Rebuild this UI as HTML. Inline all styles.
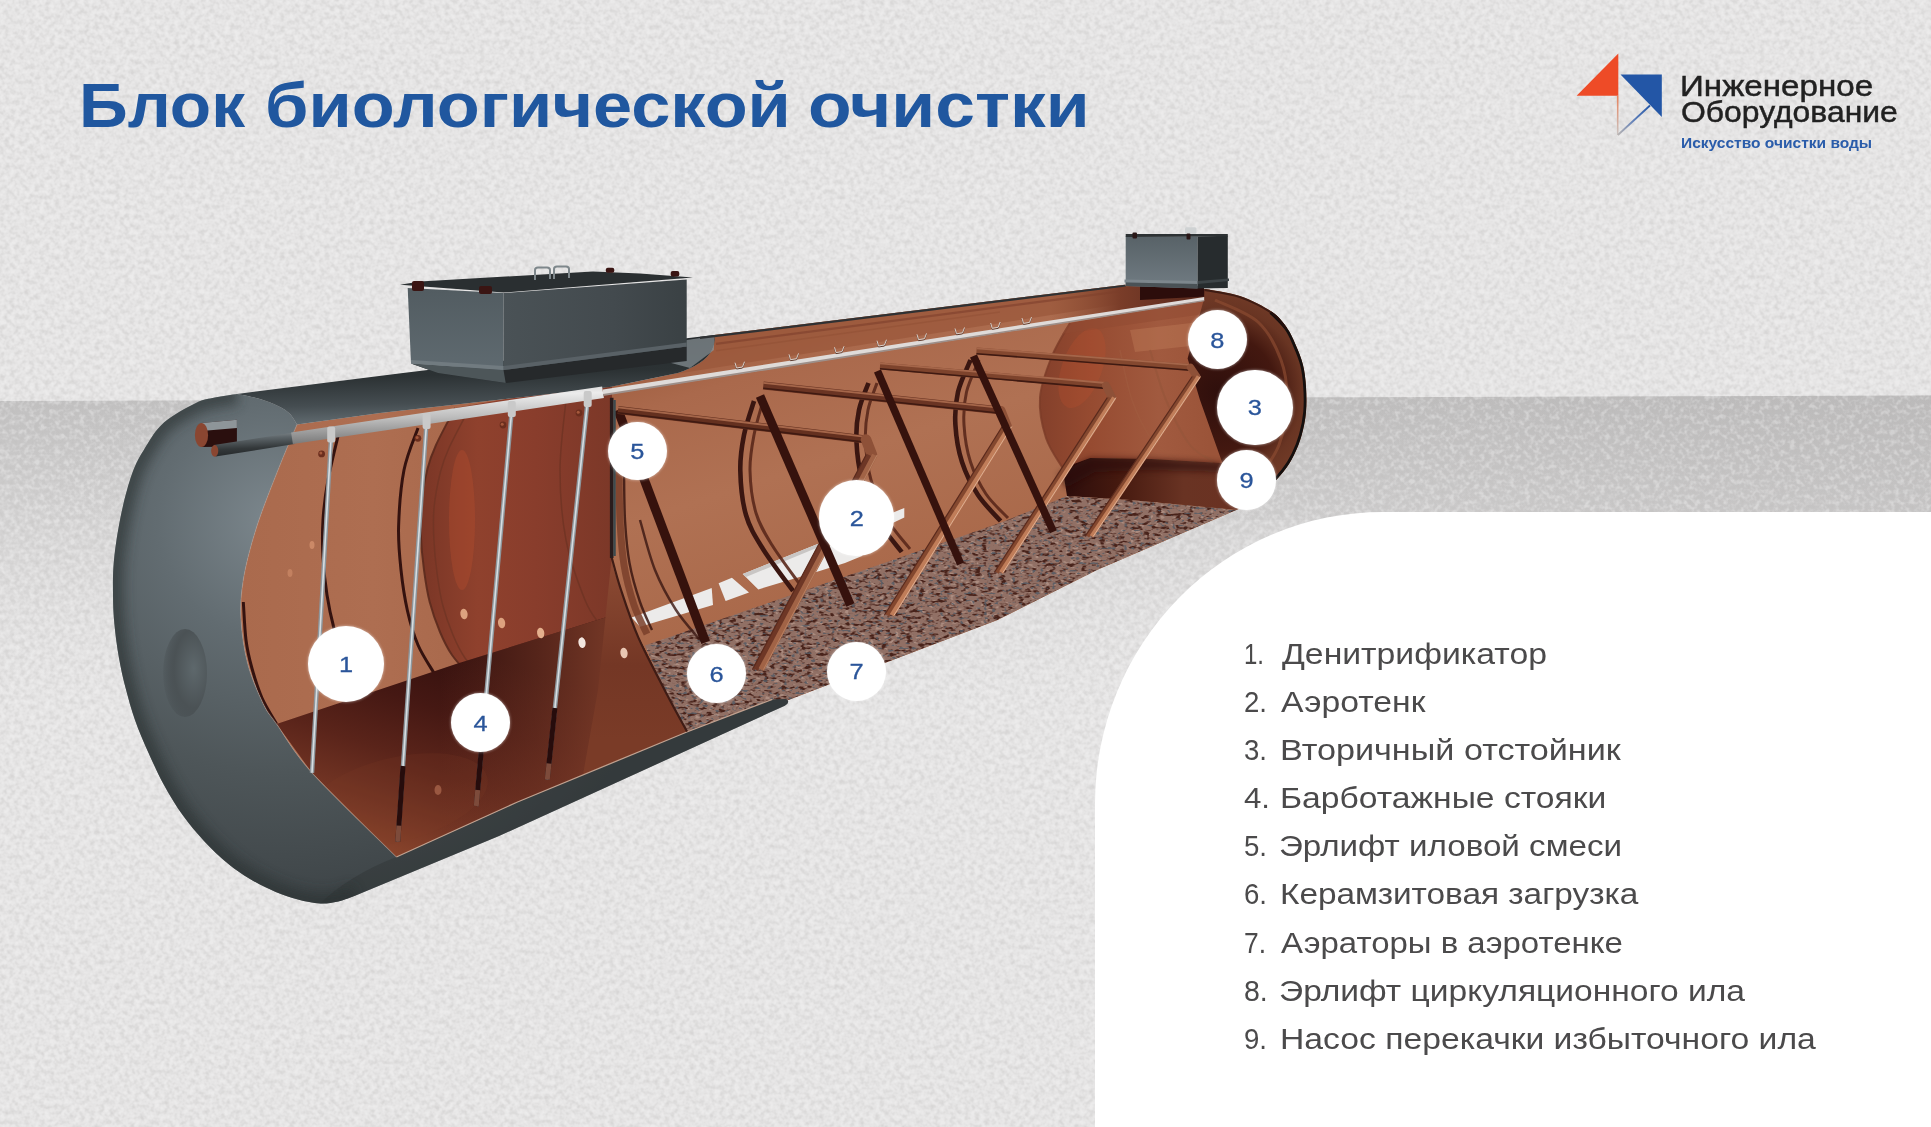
<!DOCTYPE html>
<html lang="ru">
<head>
<meta charset="utf-8">
<title>Блок биологической очистки</title>
<style>
  html,body{margin:0;padding:0;}
  body{width:1931px;height:1127px;background:#e4e3e3;font-family:"Liberation Sans",sans-serif;}
  #page{position:relative;width:1931px;height:1127px;overflow:hidden;background:#e4e3e3;}
  .abs{position:absolute;}
  #bgsvg{position:absolute;left:0;top:0;width:1931px;height:1127px;}
  #panel{position:absolute;left:1095px;top:512px;width:836px;height:615px;background:#ffffff;border-top-left-radius:288px 292px;}
  #title{position:absolute;left:0;top:65px;margin:0;font-weight:bold;font-size:63px;line-height:80px;color:#20579f;white-space:nowrap;}
  #title span{position:absolute;top:0;display:block;transform-origin:0 0;}
  .leg{position:absolute;left:1244px;height:40px;line-height:40px;font-size:30px;color:#4b4a4b;white-space:nowrap;}
  .leg .n{position:absolute;left:0;top:0;display:block;transform-origin:0 0;}
  .leg .t{position:absolute;left:36px;top:0;display:block;transform-origin:0 0;}
  .dot{position:absolute;border-radius:50%;background:#ffffff;color:#2a559a;text-align:center;font-size:21.5px;box-shadow:0 0 3px rgba(255,255,255,0.6);}
  .dot span{position:absolute;left:0;right:0;top:50%;height:30px;line-height:30px;margin-top:-14px;transform:scaleX(1.18);-webkit-text-stroke:0.3px #2a559a;}
</style>
</head>
<body>
<div id="page">

<!-- ===== background texture + ground band ===== -->
<svg id="bgsvg" viewBox="0 0 1931 1127" width="1931" height="1127">
  <defs>
    <filter id="paperL" color-interpolation-filters="sRGB" x="0" y="0" width="100%" height="100%">
      <feTurbulence type="fractalNoise" baseFrequency="0.2" numOctaves="2" seed="7" result="n"/>
      <feColorMatrix in="n" type="matrix" values="0 0 0 0 1  0 0 0 0 1  0 0 0 0 1  3.2 0 0 0 -1.45"/>
    </filter>
    <filter id="paperD" color-interpolation-filters="sRGB" x="0" y="0" width="100%" height="100%">
      <feTurbulence type="fractalNoise" baseFrequency="0.2" numOctaves="2" seed="7" result="n"/>
      <feColorMatrix in="n" type="matrix" values="0 0 0 0 0.74  0 0 0 0 0.735  0 0 0 0 0.73  -3.2 0 0 0 1.55"/>
    </filter>
    <linearGradient id="bandg" x1="0" y1="398" x2="0" y2="700" gradientUnits="userSpaceOnUse">
      <stop offset="0" stop-color="#c1c0c0"/>
      <stop offset="0.15" stop-color="#c8c7c7"/>
      <stop offset="0.45" stop-color="#d6d5d5"/>
      <stop offset="0.75" stop-color="#e0dfdf"/>
      <stop offset="1" stop-color="#e4e3e3"/>
    </linearGradient>
    <linearGradient id="bandh" x1="0" y1="0" x2="1931" y2="0" gradientUnits="userSpaceOnUse">
      <stop offset="0" stop-color="#b0aeae" stop-opacity="0"/>
      <stop offset="0.6" stop-color="#b0aeae" stop-opacity="0.1"/>
      <stop offset="1" stop-color="#b0aeae" stop-opacity="0.35"/>
    </linearGradient>
  </defs>
  <rect x="0" y="0" width="1931" height="1127" fill="#e4e3e3"/>
  <polygon points="0,401 1931,395.5 1931,700 0,700" fill="url(#bandg)"/>
  <polygon points="0,401 1931,395.5 1931,520 0,520" fill="url(#bandh)"/>
  <rect x="0" y="0" width="1931" height="1127" filter="url(#paperL)" opacity="0.3"/>
  <rect x="0" y="0" width="1931" height="1127" filter="url(#paperD)" opacity="0.3"/>
</svg>

<!-- ===== white legend panel ===== -->
<div id="panel"></div>

<!-- ===== title ===== -->
<h1 id="title"><span style="left:78.7px;transform:scaleX(1.075)">Блок</span><span style="left:265.2px;transform:scaleX(1.1166)">биологической</span><span style="left:807.7px;transform:scaleX(1.134)">очистки</span></h1>

<svg id="tank" style="position:absolute;left:0;top:0" width="1931" height="1127" viewBox="0 0 1931 1127">
<defs>
<clipPath id="cInt"><path d="M297,424.4 L380,413 L571.7,391.5 L610,387 L678,373 Q705,364 712,350 Q716,342 714,335 L1000,300 L1125,284.8 L1205,289 C1210.8,290.2 1228.9,292.2 1240,296 C1251.1,299.8 1263.7,306.3 1271.5,311.6 C1279.3,316.9 1283,322.5 1287,328 C1291,333.5 1292.9,338.6 1295.6,344.8 C1298.3,351 1301.3,358 1303,365 C1304.7,372 1305.5,379.2 1306,387 C1306.5,394.8 1306.7,404 1306,412 C1305.3,420 1303.7,427.8 1301.7,435 C1299.7,442.2 1297,448.9 1294,455 C1291,461.1 1288.4,465.5 1283.6,471.5 C1278.8,477.5 1272.1,484.9 1265,491 C1257.9,497.1 1245,505.2 1241,508 L1097,570 L997.6,620 L883.6,663.6 L786,701 L772.3,699.4 L686.9,732 L517.5,802 L396.4,857 C382.3,843 332,795 312,772.8 C292,750.6 284.7,735.5 276.6,724 C268.5,712.5 268.1,714 263.3,704 C258.5,694 251.5,678 247.8,664 C244.1,650 241.8,633.8 241,619.7 C240.2,605.7 240.7,595.2 243.3,579.7 C245.9,564.2 250.9,545 256.8,526.5 C262.7,508 271.8,485.8 278.5,468.8 C285.2,451.8 293.9,431.8 297,424.4 Z"/></clipPath>

<linearGradient id="gWallA" x1="240" y1="0" x2="620" y2="0" gradientUnits="userSpaceOnUse">
  <stop offset="0" stop-color="#aa6a4d"/><stop offset="0.35" stop-color="#ae6e51"/><stop offset="1" stop-color="#a06043"/>
</linearGradient>
<linearGradient id="gWallB" x1="700" y1="330" x2="800" y2="640" gradientUnits="userSpaceOnUse">
  <stop offset="0" stop-color="#9e5c3e"/><stop offset="0.18" stop-color="#aa694c"/><stop offset="0.5" stop-color="#b07153"/><stop offset="1" stop-color="#a86748"/>
</linearGradient>
<linearGradient id="gWater" x1="470" y1="650" x2="400" y2="860" gradientUnits="userSpaceOnUse">
  <stop offset="0" stop-color="#33100e"/><stop offset="0.3" stop-color="#451813"/><stop offset="0.55" stop-color="#5a241a"/><stop offset="0.8" stop-color="#733524"/><stop offset="1" stop-color="#8a452c"/>
</linearGradient>
<linearGradient id="gDiscA" x1="420" y1="0" x2="612" y2="0" gradientUnits="userSpaceOnUse">
  <stop offset="0" stop-color="#7a3626"/><stop offset="0.3" stop-color="#8f412d"/><stop offset="0.6" stop-color="#893d2c"/><stop offset="1" stop-color="#7c3828"/>
</linearGradient>
<linearGradient id="gPartF" x1="0" y1="400" x2="0" y2="740" gradientUnits="userSpaceOnUse">
  <stop offset="0" stop-color="#94513a"/><stop offset="0.5" stop-color="#8a4932"/><stop offset="0.78" stop-color="#743725"/><stop offset="1" stop-color="#7a3b27"/>
</linearGradient>
<radialGradient id="gCap" cx="275" cy="520" r="420" gradientUnits="userSpaceOnUse">
  <stop offset="0" stop-color="#7c878d"/><stop offset="0.28" stop-color="#626c71"/><stop offset="0.6" stop-color="#4e5659"/><stop offset="1" stop-color="#3a4043"/>
</radialGradient>
<linearGradient id="gTop" x1="0" y1="0" x2="0.14" y2="1">
  <stop offset="0" stop-color="#22272a"/><stop offset="0.5" stop-color="#2c3234"/><stop offset="0.8" stop-color="#454d51"/><stop offset="1" stop-color="#616b70"/>
</linearGradient>
<linearGradient id="gPipe" x1="0" y1="0" x2="0.15" y2="1">
  <stop offset="0" stop-color="#c9c9c9"/><stop offset="0.25" stop-color="#ececec"/><stop offset="0.6" stop-color="#bcbcbc"/><stop offset="1" stop-color="#777777"/>
</linearGradient>
<linearGradient id="gBoxL" x1="0" y1="0" x2="0" y2="1">
  <stop offset="0" stop-color="#525c61"/><stop offset="1" stop-color="#5f6a70"/>
</linearGradient>
<linearGradient id="gBoxR" x1="0" y1="0" x2="1" y2="0">
  <stop offset="0" stop-color="#4a5256"/><stop offset="0.6" stop-color="#434a4e"/><stop offset="1" stop-color="#3a4144"/>
</linearGradient>
<linearGradient id="gSettler" x1="1040" y1="0" x2="1210" y2="0" gradientUnits="userSpaceOnUse">
  <stop offset="0" stop-color="#84402b"/><stop offset="0.3" stop-color="#964b31"/><stop offset="0.7" stop-color="#a15a3f"/><stop offset="1" stop-color="#9b5439"/>
</linearGradient>
<radialGradient id="gEnd" cx="1218" cy="392" r="118" gradientUnits="userSpaceOnUse">
  <stop offset="0" stop-color="#2f0f0c"/><stop offset="0.5" stop-color="#431810"/><stop offset="0.72" stop-color="#693523"/><stop offset="0.9" stop-color="#743c28"/><stop offset="1" stop-color="#55281b"/>
</radialGradient>
<filter id="fGravel" color-interpolation-filters="sRGB" x="0" y="0" width="100%" height="100%">
  <feTurbulence type="fractalNoise" baseFrequency="0.16 0.30" numOctaves="2" seed="11" result="n"/>
  <feColorMatrix in="n" type="matrix" values="0 0 0 0 0.27  0 0 0 0 0.12  0 0 0 0 0.09  5 0 0 0 -2.55"/>
</filter>
<filter id="fGravel2" color-interpolation-filters="sRGB" x="0" y="0" width="100%" height="100%">
  <feTurbulence type="fractalNoise" baseFrequency="0.25 0.40" numOctaves="1" seed="3" result="n"/>
  <feColorMatrix in="n" type="matrix" values="0 0 0 0 0.33  0 0 0 0 0.36  0 0 0 0 0.40  0 9 0 0 -5.3"/>
</filter>
<filter id="fGravel3" color-interpolation-filters="sRGB" x="0" y="0" width="100%" height="100%">
  <feTurbulence type="fractalNoise" baseFrequency="0.20 0.36" numOctaves="1" seed="23" result="n"/>
  <feColorMatrix in="n" type="matrix" values="0 0 0 0 0.70  0 0 0 0 0.58  0 0 0 0 0.53  0 0 8 0 -4.7"/>
</filter>

</defs>
<g clip-path="url(#cInt)">
<rect x="230" y="330" width="390" height="540" fill="url(#gWallA)"/>
<rect x="605" y="270" width="720" height="480" fill="url(#gWallB)"/>
<path d="M612,384 L1210,290 L1210,270 L612,330 Z" fill="#9a573a" opacity="0.7"/>
<path d="M716,343.8 L1130,290.2" fill="none" stroke="#7a3d29" stroke-width="2.2" opacity="0.55"/>
<path d="M716,350.8 L1000,312" fill="none" stroke="#8f4d33" stroke-width="1.6" opacity="0.45"/>
<path d="M455,408 C451.8,414.2 440.6,434.9 436,445 C431.4,455.1 430,458.8 427.5,468.8 C425,478.8 422.1,493.9 421,505 C419.9,516.1 420.3,524.5 420.8,535.3 C421.3,546.1 422.5,558.9 424,570 C425.5,581.1 427,591.7 429.7,602 C432.4,612.3 436.3,623.2 440,632 C443.7,640.8 447,647.7 452,655 C457,662.3 467,672.5 470,676 L612,700 L612,380 Z" fill="url(#gDiscA)"/>
<path d="M468,411 C464.8,417.2 453.6,437.9 449,448 C444.4,458.1 443,461.8 440.5,471.8 C438,481.8 435.1,496.9 434,508 C432.9,519.1 433.3,527.5 433.8,538.3 C434.3,549.1 435.5,561.9 437,573 C438.5,584.1 440,594.7 442.7,605 C445.4,615.3 449.3,626.2 453,635 C456.7,643.8 460,650.7 465,658 C470,665.3 480,675.5 483,679" fill="none" stroke="#6f3524" stroke-width="1.5" opacity="0.8"/>
<path d="M455,408 C451.8,414.2 440.6,434.9 436,445 C431.4,455.1 430,458.8 427.5,468.8 C425,478.8 422.1,493.9 421,505 C419.9,516.1 420.3,524.5 420.8,535.3 C421.3,546.1 422.5,558.9 424,570 C425.5,581.1 427,591.7 429.7,602 C432.4,612.3 436.3,623.2 440,632 C443.7,640.8 447,647.7 452,655 C457,662.3 467,672.5 470,676" fill="none" stroke="#5b2a1d" stroke-width="2" opacity="0.9"/>
<ellipse cx="462" cy="520" rx="13" ry="70" fill="#c6522f" opacity="0.28"/>
<path d="M566,400 C565,411.7 560,446.7 560,470 C560,493.3 561.8,518.3 566,540 C570.2,561.7 579.3,585.8 585,600 C590.7,614.2 597.5,620.8 600,625" fill="none" stroke="#6b3222" stroke-width="1.5" opacity="0.7"/>
<path d="M243.3,602 C243.8,608.3 244.6,628.9 246,640 C247.4,651.1 249.3,658.8 252,668.5 C254.7,678.2 257.9,688.8 262,698 C266.1,707.2 274.2,719.7 276.6,724" fill="none" stroke="#34120f" stroke-width="3"/>
<path d="M340,428 C338,436.7 330.8,464.7 328,480 C325.2,495.3 323.8,507.1 323,520 C322.2,532.9 322.3,545 323,557.5 C323.7,570 325.2,583.2 327,595 C328.8,606.8 331.2,617.7 334,628.5 C336.8,639.3 340.3,649.8 344,660 C347.7,670.2 354,685 356,690" fill="none" stroke="#34120f" stroke-width="3"/>
<path d="M418,428 C415.7,435 407.2,453.6 404,470 C400.8,486.4 399.1,509.8 398.6,526.5 C398.1,543.2 399.5,555.9 401,570 C402.5,584.1 404.7,598.5 407.5,611 C410.3,623.5 413.6,634.7 418,645 C422.4,655.3 431.3,668.3 434,673" fill="none" stroke="#34120f" stroke-width="3"/>
<path d="M276.6,724 L456,664 L611.7,615.5 L640,640 L687,731.5 L517.5,802 L396.4,857 L312,772.8 Z" fill="url(#gWater)"/>
<linearGradient id="gWaterH" x1="440" y1="0" x2="600" y2="0" gradientUnits="userSpaceOnUse"><stop offset="0" stop-color="#7e3d29" stop-opacity="0"/><stop offset="0.6" stop-color="#7e3d29" stop-opacity="0.45"/><stop offset="1" stop-color="#84412c" stop-opacity="0.75"/></linearGradient>
<path d="M276.6,724 L456,664 L611.7,615.5 L640,640 L687,731.5 L517.5,802 L396.4,857 L312,772.8 Z" fill="url(#gWaterH)"/>
<path d="M611.7,397.8  C611.7,414.8 611.7,473.4 611.7,500 C611.7,526.6 610.2,542.7 611.7,557.5 C613.2,572.3 616.2,575.3 620.6,588.6 C625,601.9 630.9,620.4 638.3,637.4 C645.7,654.4 656.9,675 665,690.7 C673.1,706.4 683.3,724.7 687,731.5 L583,775 L598,690 L611.7,557 Z" fill="url(#gPartF)"/>
<ellipse cx="395" cy="800" rx="95" ry="42" transform="rotate(-14 395 800)" fill="#7d3b27" opacity="0.18"/>
<ellipse cx="464" cy="614" rx="3.6" ry="5.4" fill="#dda27f" transform="rotate(-10 464 614)"/>
<ellipse cx="501.6" cy="623" rx="3.6" ry="5.4" fill="#dda27f" transform="rotate(-10 501.6 623)"/>
<ellipse cx="540.7" cy="633" rx="3.6" ry="5.4" fill="#e4b08d" transform="rotate(-10 540.7 633)"/>
<ellipse cx="582" cy="642.7" rx="3.6" ry="5.4" fill="#f3e6df" transform="rotate(-10 582 642.7)"/>
<ellipse cx="624" cy="653" rx="3.6" ry="5.4" fill="#e9c7b3" transform="rotate(-10 624 653)"/>
<ellipse cx="312" cy="545" rx="2.5" ry="4" fill="#d99572" opacity="0.7"/>
<ellipse cx="290" cy="573" rx="2.5" ry="4" fill="#d99572" opacity="0.5"/>
<ellipse cx="438" cy="790" rx="3.5" ry="5" fill="#a6634a" opacity="0.8"/>
<path d="M1070,323 C1067,328.5 1057,343.6 1052,356 C1047,368.4 1041,383.8 1040,397.5 C1039,411.2 1042.2,426.2 1046,438 C1049.8,449.8 1059.8,463 1062.6,468 L1090,458 L1151,459 L1222,463 L1204,299 Z" fill="url(#gSettler)"/>
<ellipse cx="1082" cy="368" rx="20" ry="42" fill="#c8532f" opacity="0.22" transform="rotate(20 1082 368)"/>
<path d="M1070,323 C1067,328.5 1057,343.6 1052,356 C1047,368.4 1041,383.8 1040,397.5 C1039,411.2 1042.2,426.2 1046,438 C1049.8,449.8 1059.8,463 1062.6,468" fill="none" stroke="#7c3c28" stroke-width="2" opacity="0.8"/>
<path d="M1062,334 L1204,314 L1204,300 L1070,323 Z" fill="#8f4a31" opacity="0.5"/>
<path d="M1130,330 L1200,322 L1200,345 L1135,352 Z" fill="#c6835f" opacity="0.35"/>
<path d="M1150,350 C1152.7,358.3 1159.3,384.2 1166,400 C1172.7,415.8 1181.8,434.7 1190,445 C1198.2,455.3 1210.8,459.2 1215,462" fill="none" stroke="#96553a" stroke-width="2" opacity="0.7"/>
<path d="M1120,350 C1122,358.3 1126.7,385 1132,400 C1137.3,415 1144.8,430 1152,440 C1159.2,450 1171.2,456.7 1175,460" fill="none" stroke="#a05c40" stroke-width="1.5" opacity="0.6"/>
<linearGradient id="gNeck" x1="1050" y1="0" x2="1205" y2="0" gradientUnits="userSpaceOnUse"><stop offset="0" stop-color="#8a4a31" stop-opacity="0"/><stop offset="0.45" stop-color="#7a3d29"/><stop offset="1" stop-color="#55261a"/></linearGradient>
<path d="M1050,292 L1210,280 L1210,297.5 L1050,322 Z" fill="url(#gNeck)"/>
<linearGradient id="gShade" x1="1060" y1="0" x2="1225" y2="0" gradientUnits="userSpaceOnUse"><stop offset="0" stop-color="#2a0c0b"/><stop offset="0.35" stop-color="#45190f"/><stop offset="0.75" stop-color="#693323"/><stop offset="1" stop-color="#6a3222"/></linearGradient>
<path d="M1062.6,468 L1090,458 L1151,459 L1222,463 L1238,510 L1130,500 L1067,496 Z" fill="url(#gShade)"/>
<filter id="fBlur3" x="-10%" y="-30%" width="120%" height="160%"><feGaussianBlur stdDeviation="3"/></filter>
<path d="M1058,474 L1090,458 L1151,459 L1222,463 L1224,472 L1150,470 L1095,472 L1066,488 Z" fill="#2c0e0c" opacity="0.6" filter="url(#fBlur3)"/>
<path d="M1204,299 L1205,289 C1210.8,290.2 1228.9,292.2 1240,296 C1251.1,299.8 1263.7,306.3 1271.5,311.6 C1279.3,316.9 1283,322.5 1287,328 C1291,333.5 1292.9,338.6 1295.6,344.8 C1298.3,351 1301.3,358 1303,365 C1304.7,372 1305.5,379.2 1306,387 C1306.5,394.8 1306.7,404 1306,412 C1305.3,420 1303.7,427.8 1301.7,435 C1299.7,442.2 1297,448.9 1294,455 C1291,461.1 1288.4,465.5 1283.6,471.5 C1278.8,477.5 1272.1,484.9 1265,491 C1257.9,497.1 1245,505.2 1241,508 L1222,462 L1200,400 L1187.6,358.4 Z" fill="url(#gEnd)"/>
<path d="M1271.5,311.6 C1274.1,314.3 1283,322.5 1287,328 C1291,333.5 1292.9,338.6 1295.6,344.8 C1298.3,351 1301.3,358 1303,365 C1304.7,372 1305.5,379.2 1306,387 C1306.5,394.8 1306.7,404 1306,412 C1305.3,420 1303.7,427.8 1301.7,435 C1299.7,442.2 1297,448.9 1294,455 C1291,461.1 1288.4,465.5 1283.6,471.5 C1278.8,477.5 1272.1,484.9 1265,491 C1257.9,497.1 1245,505.2 1241,508" fill="none" stroke="#15100f" stroke-width="5.5"/>
<path d="M1205,289 C1210.8,290.2 1228.9,292.2 1240,296 C1251.1,299.8 1263.7,306.3 1271.5,311.6 C1279.3,316.9 1284.4,325.3 1287,328" fill="none" stroke="#2a0f0c" stroke-width="4" opacity="0.7"/>
<path d="M1215,300 C1222.2,303.7 1247,312 1258,322 C1269,332 1276.2,347 1281,360 C1285.8,373 1287.3,385.8 1287,400 C1286.7,414.2 1284.2,431.3 1279,445 C1273.8,458.7 1259.8,475.8 1256,482" fill="none" stroke="#8a4a30" stroke-width="3" opacity="0.7"/>
<path d="M631.7,617.4 L711.7,587.9 L713,605 L640,626.7 Z" fill="#ecebea"/>
<path d="M718.6,583.2 L731.9,577.8 L749,592.5 L725.6,601 Z" fill="#ecebea"/>
<path d="M742.7,573.9 L818.9,543.6 L904.3,507.9 L904.3,517.5 L880,529 L862,556 L845,563 L820.4,570.8 L758.3,589.4 Z" fill="#ecebea"/>
<path d="M742.7,573.9 L818.9,543.6 L818.9,547 L746,577 Z" fill="#c9c6c4"/>
<clipPath id="cGrav"><path d="M645,645.5 L1000,523 L1067,496 L1130,500 L1236,510 L1241,508 L1097,570 L997.6,620 L883.6,663.6 L786,701 L772.3,699.4 L687,731.5 L665,690.7 Z"/></clipPath>
<path d="M645,645.5 L1000,523 L1067,496 L1130,500 L1236,510 L1241,508 L1097,570 L997.6,620 L883.6,663.6 L786,701 L772.3,699.4 L687,731.5 L665,690.7 Z" fill="#917065"/>
<g clip-path="url(#cGrav)"><rect x="600" y="480" width="660" height="260" filter="url(#fGravel3)" opacity="0.8"/><rect x="600" y="480" width="660" height="260" filter="url(#fGravel)" opacity="0.95"/><rect x="600" y="480" width="660" height="260" filter="url(#fGravel2)" opacity="0.8"/></g>
<path d="M754,401 C752.3,406.7 746.3,423.4 744,435 C741.7,446.6 740,457.2 740.3,470.5 C740.6,483.8 742.2,501.9 746,515 C749.8,528.1 755.2,536.3 763,549 C770.8,561.7 788,584 793,591" fill="none" stroke="#3a1611" stroke-width="4.6"/>
<path d="M763,401 C761.5,406.7 756.2,423.4 754,435 C751.8,446.6 749.7,457.5 750,470.5 C750.3,483.5 752.3,500.6 756,513 C759.7,525.4 764.5,532.8 772,545 C779.5,557.2 796.2,579.2 801,586" fill="none" stroke="#5a281b" stroke-width="3" opacity="0.9"/>
<path d="M868.5,383 C866.9,387.5 861,400.4 859,410 C857,419.6 855.9,428.6 856.4,440.3 C856.9,452 858.4,466.7 862,480 C865.6,493.3 871.4,508 878,520 C884.6,532 897.8,546.7 901.7,552" fill="none" stroke="#3a1611" stroke-width="4.6"/>
<path d="M877,383 C875.5,387.5 869.9,400.4 868,410 C866.1,419.6 864.9,428.6 865.4,440.3 C865.9,452 867.4,466.9 871,480 C874.6,493.1 880.5,507.5 887,519 C893.5,530.5 906.2,544 910,549" fill="none" stroke="#5a281b" stroke-width="3" opacity="0.9"/>
<path d="M970.5,360 C968.4,365.3 960.5,381.2 958,392 C955.5,402.8 954.7,413.1 955.4,424.8 C956.1,436.5 958.2,450.3 962,462 C965.8,473.7 971.6,485.2 978,495 C984.4,504.8 996.8,516.7 1000.6,521" fill="none" stroke="#3a1611" stroke-width="4.6"/>
<path d="M979,360 C976.9,365.3 969,381.2 966.5,392 C964,402.8 963.3,413.1 964,424.8 C964.7,436.5 966.8,450.5 970.5,462 C974.2,473.5 979.8,484.7 986,494 C992.2,503.3 1004.3,514 1008,518" fill="none" stroke="#5a281b" stroke-width="3" opacity="0.9"/>
<path d="M640,520 C642.5,528.3 649,555 655,570 C661,585 668.5,598.3 676,610 C683.5,621.7 696,635 700,640" fill="none" stroke="#3a1611" stroke-width="2.5" opacity="0.8"/>
<line x1="618" y1="410" x2="705.6" y2="642.4" stroke="#36120d" stroke-width="9.2"/>
<line x1="618" y1="410" x2="866" y2="439.5" stroke="#64301f" stroke-width="8.3"/>
<line x1="618" y1="407.4" x2="866" y2="436.9" stroke="#a5664a" stroke-width="1.8"/>
<line x1="618" y1="412.8" x2="866" y2="442.3" stroke="#3f1a12" stroke-width="1.6"/>
<path d="M866,439.5 L872,455" fill="none" stroke="#8e5138" stroke-width="10.5" stroke-linecap="round"/>
<line x1="869.1" y1="455" x2="755.5" y2="669.6" stroke="#6e3726" stroke-width="5.8"/>
<line x1="866" y1="455" x2="752.4" y2="669.6" stroke="#5a2a1d" stroke-width="1.2"/>
<line x1="874.8" y1="455" x2="761.2" y2="669.6" stroke="#a16346" stroke-width="5.8"/>
<line x1="877.1" y1="455" x2="763.5" y2="669.6" stroke="#b98062" stroke-width="1"/>
<line x1="760" y1="396" x2="850.4" y2="605" stroke="#36120d" stroke-width="8.8"/>
<line x1="763.3" y1="385.5" x2="1001" y2="410.5" stroke="#6a3423" stroke-width="7.9"/>
<line x1="763.3" y1="382.9" x2="1001" y2="407.9" stroke="#a5664a" stroke-width="1.8"/>
<line x1="763.3" y1="388.3" x2="1001" y2="413.3" stroke="#3f1a12" stroke-width="1.6"/>
<path d="M1001,410.5 L1007.4,426.5" fill="none" stroke="#8e5138" stroke-width="9" stroke-linecap="round"/>
<line x1="1004.9" y1="426.5" x2="887.1" y2="615.3" stroke="#84482f" stroke-width="5"/>
<line x1="1002.2" y1="426.5" x2="884.4" y2="615.3" stroke="#5a2a1d" stroke-width="1.2"/>
<line x1="1009.8" y1="426.5" x2="892" y2="615.3" stroke="#c07d59" stroke-width="5"/>
<line x1="1011.8" y1="426.5" x2="894" y2="615.3" stroke="#dcae92" stroke-width="1"/>
<line x1="877.5" y1="371" x2="960.6" y2="564" stroke="#36120d" stroke-width="7.6"/>
<line x1="880" y1="366" x2="1106" y2="385.6" stroke="#7d432c" stroke-width="6.8"/>
<line x1="880" y1="363.4" x2="1106" y2="383" stroke="#a5664a" stroke-width="1.8"/>
<line x1="880" y1="368.8" x2="1106" y2="388.4" stroke="#3f1a12" stroke-width="1.6"/>
<path d="M1106,385.6 L1112,397.6" fill="none" stroke="#8e5138" stroke-width="8" stroke-linecap="round"/>
<line x1="1109.8" y1="397.6" x2="996.8" y2="572.5" stroke="#84482f" stroke-width="4.5"/>
<line x1="1107.3" y1="397.6" x2="994.3" y2="572.5" stroke="#5a2a1d" stroke-width="1.2"/>
<line x1="1114.2" y1="397.6" x2="1001.1" y2="572.5" stroke="#c07d59" stroke-width="4.5"/>
<line x1="1115.9" y1="397.6" x2="1002.9" y2="572.5" stroke="#dcae92" stroke-width="1"/>
<line x1="973.5" y1="356" x2="1053.4" y2="531.8" stroke="#36120d" stroke-width="7.6"/>
<line x1="976.5" y1="350.9" x2="1190.6" y2="367.5" stroke="#84482f" stroke-width="6.8"/>
<line x1="976.5" y1="348.3" x2="1190.6" y2="364.9" stroke="#a5664a" stroke-width="1.8"/>
<line x1="976.5" y1="353.7" x2="1190.6" y2="370.3" stroke="#3f1a12" stroke-width="1.6"/>
<path d="M1190.6,367.5 L1196.7,376.5" fill="none" stroke="#8e5138" stroke-width="7.5" stroke-linecap="round"/>
<line x1="1194.6" y1="376.5" x2="1087.5" y2="536.4" stroke="#84482f" stroke-width="4.2"/>
<line x1="1192.2" y1="376.5" x2="1085.1" y2="536.4" stroke="#5a2a1d" stroke-width="1.2"/>
<line x1="1198.7" y1="376.5" x2="1091.6" y2="536.4" stroke="#c07d59" stroke-width="4.2"/>
<line x1="1200.4" y1="376.5" x2="1093.2" y2="536.4" stroke="#dcae92" stroke-width="1"/>
<path d="M619,470 C619.2,478.3 619.2,504.2 620,520 C620.8,535.8 621.7,550.8 624,565 C626.3,579.2 630.2,593.5 634,605 C637.8,616.5 644.8,629.2 647,634" fill="none" stroke="#7a3f2a" stroke-width="7" opacity="0.85"/>
<path d="M624,470 C624.2,478.3 624.1,504.5 625,520 C625.9,535.5 627,549.3 629.5,563 C632,576.7 636.2,590.8 640,602 C643.8,613.2 650,625.3 652,630" fill="none" stroke="#3a1611" stroke-width="2.4" opacity="0.85"/>
</g>
<path d="M237,394 C233.3,394.6 221.8,396 215,397.5 C208.2,399 204.5,398.8 196,403 C187.5,407.2 172.5,415 164,422.5 C155.5,430 150.3,439.4 145,448 C139.7,456.6 136,462.8 132,474 C128,485.2 124,500.7 121,515 C118,529.3 115.3,546.7 114,560 C112.7,573.3 112.9,584.3 113,595 C113.1,605.7 113.4,613.5 114.4,624 C115.4,634.5 117.1,647.3 119,658 C120.9,668.7 122.9,677.7 125.6,688 C128.3,698.3 131.3,709.4 135,720 C138.7,730.6 143.2,740.9 148,751.7 C152.8,762.5 158.2,774.4 164,785 C169.8,795.6 176.3,806.3 183,815.6 C189.7,824.9 196.5,833 204,841 C211.5,849 220.1,857.2 227.8,863.5 C235.5,869.8 242,874.2 250,879 C258,883.8 267.7,888.6 275.7,892 C283.7,895.4 290.6,897.6 298,899.5 C305.4,901.4 313.3,903.2 320,903.5 C326.7,903.8 332.1,902.8 338,901.5 C343.9,900.2 352.7,896.5 355.6,895.5 L499,836 L641.8,771 L784.8,705.7 Q791,702 786,699 L772.3,699.4 L686.9,732 L517.5,802 L396.4,857 C382.3,843 332,795 312,772.8 C292,750.6 284.7,735.5 276.6,724 C268.5,712.5 268.1,714 263.3,704 C258.5,694 251.5,678 247.8,664 C244.1,650 241.8,633.8 241,619.7 C240.2,605.7 240.7,595.2 243.3,579.7 C245.9,564.2 250.9,545 256.8,526.5 C262.7,508 271.8,485.8 278.5,468.8 C285.2,451.8 293.9,431.8 297,424.4 C295.8,422.7 293,417 290,414 C287,411 284,409 279,406.5 C274,404 267,401.1 260,399 C253,396.9 240.8,394.8 237,394 Z" fill="url(#gCap)"/>
<path d="M320,903.5 L338,901.5 L355.6,895.5 L499,836 L641.8,771 L784.8,705.7 Q791,702 786,699 L772.3,699.4 L686.9,732 L517.5,802 L396.4,857 Q350,875 320,903.5 Z" fill="#2c3133" opacity="0.4"/>
<clipPath id="cCap"><path d="M237,394 C233.3,394.6 221.8,396 215,397.5 C208.2,399 204.5,398.8 196,403 C187.5,407.2 172.5,415 164,422.5 C155.5,430 150.3,439.4 145,448 C139.7,456.6 136,462.8 132,474 C128,485.2 124,500.7 121,515 C118,529.3 115.3,546.7 114,560 C112.7,573.3 112.9,584.3 113,595 C113.1,605.7 113.4,613.5 114.4,624 C115.4,634.5 117.1,647.3 119,658 C120.9,668.7 122.9,677.7 125.6,688 C128.3,698.3 131.3,709.4 135,720 C138.7,730.6 143.2,740.9 148,751.7 C152.8,762.5 158.2,774.4 164,785 C169.8,795.6 176.3,806.3 183,815.6 C189.7,824.9 196.5,833 204,841 C211.5,849 220.1,857.2 227.8,863.5 C235.5,869.8 242,874.2 250,879 C258,883.8 267.7,888.6 275.7,892 C283.7,895.4 290.6,897.6 298,899.5 C305.4,901.4 313.3,903.2 320,903.5 C326.7,903.8 332.1,902.8 338,901.5 C343.9,900.2 352.7,896.5 355.6,895.5 L499,836 L641.8,771 L784.8,705.7 Q791,702 786,699 L772.3,699.4 L686.9,732 L517.5,802 L396.4,857 C382.3,843 332,795 312,772.8 C292,750.6 284.7,735.5 276.6,724 C268.5,712.5 268.1,714 263.3,704 C258.5,694 251.5,678 247.8,664 C244.1,650 241.8,633.8 241,619.7 C240.2,605.7 240.7,595.2 243.3,579.7 C245.9,564.2 250.9,545 256.8,526.5 C262.7,508 271.8,485.8 278.5,468.8 C285.2,451.8 293.9,431.8 297,424.4 C295.8,422.7 293,417 290,414 C287,411 284,409 279,406.5 C274,404 267,401.1 260,399 C253,396.9 240.8,394.8 237,394 Z"/></clipPath>
<filter id="fBlur6" x="-10%" y="-10%" width="120%" height="120%"><feGaussianBlur stdDeviation="6"/></filter>
<g clip-path="url(#cCap)"><path d="M237,394 C233.3,394.6 221.8,396 215,397.5 C208.2,399 204.5,398.8 196,403 C187.5,407.2 172.5,415 164,422.5 C155.5,430 150.3,439.4 145,448 C139.7,456.6 136,462.8 132,474 C128,485.2 124,500.7 121,515 C118,529.3 115.3,546.7 114,560 C112.7,573.3 112.9,584.3 113,595 C113.1,605.7 113.4,613.5 114.4,624 C115.4,634.5 117.1,647.3 119,658 C120.9,668.7 122.9,677.7 125.6,688 C128.3,698.3 131.3,709.4 135,720 C138.7,730.6 143.2,740.9 148,751.7 C152.8,762.5 158.2,774.4 164,785 C169.8,795.6 176.3,806.3 183,815.6 C189.7,824.9 196.5,833 204,841 C211.5,849 220.1,857.2 227.8,863.5 C235.5,869.8 242,874.2 250,879 C258,883.8 267.7,888.6 275.7,892 C283.7,895.4 290.6,897.6 298,899.5 C305.4,901.4 313.3,903.2 320,903.5 C326.7,903.8 332.1,902.8 338,901.5 C343.9,900.2 352.7,896.5 355.6,895.5" fill="none" stroke="#2b3032" stroke-width="22" opacity="0.6" filter="url(#fBlur6)"/></g>
<radialGradient id="gBump" cx="0.7" cy="0.45" r="0.75"><stop offset="0" stop-color="#5e686c"/><stop offset="0.6" stop-color="#4b5255"/><stop offset="1" stop-color="#41474a" stop-opacity="0"/></radialGradient>
<ellipse cx="185" cy="673" rx="22" ry="44" fill="url(#gBump)"/>
<path d="M396.4,857 C382.3,843 332,795 312,772.8 C292,750.6 284.7,735.5 276.6,724 C268.5,712.5 268.1,714 263.3,704 C258.5,694 251.5,678 247.8,664 C244.1,650 241.8,633.8 241,619.7 C240.2,605.7 240.7,595.2 243.3,579.7 C245.9,564.2 250.9,545 256.8,526.5 C262.7,508 271.8,485.8 278.5,468.8 C285.2,451.8 293.9,431.8 297,424.4" fill="none" stroke="#c9a795" stroke-width="1.2" opacity="0.3"/>
<path d="M396.4,857 L517.5,802 L686.9,732 L772.3,699.4" fill="none" stroke="#c9a795" stroke-width="1.3" opacity="0.9"/>
<path d="M237,394 L403,373 L686.7,338.3 L714,335 Q716,342 712,350 Q705,364 678,373 L610,387 L571.7,391.5 L380,413 L297,424.4 C295.8,422.7 293,417 290,414 C287,411 284,409 279,406.5 C274,404 267,401.1 260,399 C253,396.9 240.8,394.8 237,394 Z" fill="url(#gTop)"/>
<path d="M660,360 L686.7,340 L714,336 L714,350 L690,368 Z" fill="#8a9397" opacity="0.7"/>
<path d="M700,336.7 L1125,284.8 L1126,286.6 L700,339.1 Z" fill="#2f3133"/>
<path d="M411,363.5 L503.5,370 L686.7,346.5 L686.7,361 L505.7,383 L438,373 Z" fill="#26292b"/>
<path d="M411,363.5 L503.5,370 L505.7,383 L438,373 Z" fill="#4d5659"/>
<path d="M407.7,288 L503.5,293 L503.5,370 L411,363.5 Z" fill="url(#gBoxL)"/>
<path d="M503.5,293 L686.7,279.4 L686.7,346.5 L503.5,370 Z" fill="url(#gBoxR)"/>
<path d="M400,284.7 L503.5,292.5 L693,277.5 L640,273.5 L593,271.5 L420,281.5 Z" fill="#2a2f31"/>
<path d="M503.5,366 L686.7,342.5 L686.7,346.5 L503.5,370 Z" fill="#596166"/>
<path d="M411,360 L503.5,366 L503.5,370 L411,363.5 Z" fill="#717b80"/>
<path d="M535,280 L535,270 Q535,267.5 538,267.5 L547,267.5 Q550,267.5 550,270 L550,279" fill="none" stroke="#7e878b" stroke-width="2"/>
<path d="M554,279 L554,269 Q554,266.5 557,266.5 L566,266.5 Q569,266.5 569,269 L569,278" fill="none" stroke="#7e878b" stroke-width="2"/>
<rect x="412" y="281" width="12" height="10" rx="2" fill="#3a1513"/>
<rect x="605.8" y="267.7" width="8.5" height="5" rx="2" fill="#3a1513"/>
<rect x="670.7" y="271" width="8.6" height="5.5" rx="2" fill="#3a1513"/>
<rect x="479" y="286" width="13" height="8" rx="2" fill="#3a1513"/>
<linearGradient id="gSmF" x1="0" y1="0" x2="0" y2="1"><stop offset="0" stop-color="#586267"/><stop offset="1" stop-color="#717c83"/></linearGradient>
<path d="M1140,284 L1204,286 L1204,296.5 L1140,300 Z" fill="#2c0d0b"/>
<path d="M1125.7,236.6 L1197.6,236.6 L1197.6,288.5 L1125.7,286 Z" fill="url(#gSmF)"/>
<path d="M1197.6,236.6 L1227.8,235.7 L1227.8,288 L1197.6,288.5 Z" fill="#272c2e"/>
<path d="M1125.7,234 L1227.8,234 L1227.8,236.6 L1125.7,237 Z" fill="#2d3234"/>
<path d="M1124.5,279.6 L1197.6,281 L1197.6,284 L1124.5,282.6 Z" fill="#7d878d"/>
<path d="M1125.7,282.6 L1197.6,284 L1197.6,288.5 L1125.7,286 Z" fill="#4a5256"/>
<path d="M1197.6,281 L1229,278.5 L1229,281 L1197.6,284 Z" fill="#3d4447"/>
<rect x="1185" y="227.2" width="11.5" height="6.6" rx="1.5" fill="#cfd2d3"/>
<rect x="1132.5" y="232.5" width="4.5" height="6" rx="1" fill="#2a1717"/><rect x="1186.5" y="233.5" width="4" height="6" rx="1" fill="#2a1717"/>
<path d="M201.5,423 L236.9,419.8 L236.9,446.5 L201.5,447 Z" fill="#2a0f0e"/>
<path d="M201.5,423 L236.9,419.8 L236.9,428 L201.5,431 Z" fill="#8e9599"/>
<ellipse cx="201.5" cy="435" rx="6.6" ry="12" fill="#8a4631"/>
<linearGradient id="gStub" x1="0" y1="0" x2="0.15" y2="1"><stop offset="0" stop-color="#8d9498"/><stop offset="0.3" stop-color="#5d6569"/><stop offset="0.7" stop-color="#33383a"/><stop offset="1" stop-color="#25292b"/></linearGradient>
<path d="M215.6,456.5 L294.5,444.1 L292.7,432.7 L213.8,445.1 Z" fill="url(#gStub)"/>
<ellipse cx="214.7" cy="450.8" rx="3.6" ry="5.9" fill="#8a4631"/>
<path d="M292.9,444 L603.9,398 L602.1,386.4 L291.1,432.4 Z" fill="url(#gPipe)"/>
<path d="M603,389.4 L1204.2,296.9 L1204.2,300.7 L603,395.2 Z" fill="#dfdbd9"/>
<path d="M603,394 L1204.2,299.9 L1204.2,301.2 L603,396 Z" fill="#9c8f8a"/>
<path d="M735,363.7 L736.5,369 L742.5,368 L744.5,362.7" fill="none" stroke="#5a382c" stroke_width="4" stroke_linecap="round"/>
<path d="M735,362.7 L736.5,368 L742.5,367 L744.5,361.7" fill="none" stroke="#d9d0ca" stroke_width="1.8" stroke_linecap="round"/>
<path d="M789,355.4 L790.5,360.7 L796.5,359.7 L798.5,354.4" fill="none" stroke="#5a382c" stroke_width="4" stroke_linecap="round"/>
<path d="M789,354.4 L790.5,359.7 L796.5,358.7 L798.5,353.4" fill="none" stroke="#d9d0ca" stroke_width="1.8" stroke_linecap="round"/>
<path d="M834.5,348.3 L836,353.6 L842,352.6 L844,347.3" fill="none" stroke="#5a382c" stroke_width="4" stroke_linecap="round"/>
<path d="M834.5,347.3 L836,352.6 L842,351.6 L844,346.3" fill="none" stroke="#d9d0ca" stroke_width="1.8" stroke_linecap="round"/>
<path d="M877,341.7 L878.5,347 L884.5,346 L886.5,340.7" fill="none" stroke="#5a382c" stroke_width="4" stroke_linecap="round"/>
<path d="M877,340.7 L878.5,346 L884.5,345 L886.5,339.7" fill="none" stroke="#d9d0ca" stroke_width="1.8" stroke_linecap="round"/>
<path d="M917,335.4 L918.5,340.7 L924.5,339.7 L926.5,334.4" fill="none" stroke="#5a382c" stroke_width="4" stroke_linecap="round"/>
<path d="M917,334.4 L918.5,339.7 L924.5,338.7 L926.5,333.4" fill="none" stroke="#d9d0ca" stroke_width="1.8" stroke_linecap="round"/>
<path d="M955,329.5 L956.5,334.8 L962.5,333.8 L964.5,328.5" fill="none" stroke="#5a382c" stroke_width="4" stroke_linecap="round"/>
<path d="M955,328.5 L956.5,333.8 L962.5,332.8 L964.5,327.5" fill="none" stroke="#d9d0ca" stroke_width="1.8" stroke_linecap="round"/>
<path d="M990.7,324 L992.2,329.3 L998.2,328.3 L1000.2,323" fill="none" stroke="#5a382c" stroke_width="4" stroke_linecap="round"/>
<path d="M990.7,323 L992.2,328.3 L998.2,327.3 L1000.2,322" fill="none" stroke="#d9d0ca" stroke_width="1.8" stroke_linecap="round"/>
<path d="M1022,319.1 L1023.5,324.4 L1029.5,323.4 L1031.5,318.1" fill="none" stroke="#5a382c" stroke_width="4" stroke_linecap="round"/>
<path d="M1022,318.1 L1023.5,323.4 L1029.5,322.4 L1031.5,317.1" fill="none" stroke="#d9d0ca" stroke_width="1.8" stroke_linecap="round"/>
<line x1="331.2" y1="435.5" x2="312" y2="772.8" stroke="#8e979d" stroke-width="4.4"/>
<line x1="331.2" y1="435.5" x2="312" y2="772.8" stroke="#d7dde1" stroke-width="1.6"/>
<rect x="327.2" y="426.5" width="8" height="16" rx="2" fill="#c9c9c9"/>
<line x1="426.6" y1="422" x2="397.8" y2="841.6" stroke="#8e979d" stroke-width="4.4"/>
<line x1="426.6" y1="422" x2="397.8" y2="841.6" stroke="#d7dde1" stroke-width="1.6"/>
<line x1="403" y1="766" x2="397.8" y2="841.6" stroke="#260c0c" stroke-width="5"/>
<line x1="398.9" y1="825.6" x2="397.8" y2="841.6" stroke="#7d4b3b" stroke-width="5"/>
<rect x="422.6" y="413" width="8" height="16" rx="2" fill="#c9c9c9"/>
<line x1="511.8" y1="410" x2="476.3" y2="806" stroke="#8e979d" stroke-width="4.4"/>
<line x1="511.8" y1="410" x2="476.3" y2="806" stroke="#d7dde1" stroke-width="1.6"/>
<line x1="481.3" y1="750" x2="476.3" y2="806" stroke="#260c0c" stroke-width="5"/>
<line x1="477.7" y1="790" x2="476.3" y2="806" stroke="#7d4b3b" stroke-width="5"/>
<rect x="507.8" y="401" width="8" height="16" rx="2" fill="#c9c9c9"/>
<line x1="587.7" y1="400" x2="547.3" y2="779.4" stroke="#8e979d" stroke-width="4.4"/>
<line x1="587.7" y1="400" x2="547.3" y2="779.4" stroke="#d7dde1" stroke-width="1.6"/>
<line x1="554.9" y1="708" x2="547.3" y2="779.4" stroke="#260c0c" stroke-width="5"/>
<line x1="549" y1="763.4" x2="547.3" y2="779.4" stroke="#7d4b3b" stroke-width="5"/>
<rect x="583.7" y="391" width="8" height="16" rx="2" fill="#c9c9c9"/>
<circle cx="321.6" cy="453.9" r="3.4" fill="#6b2e1e"/><circle cx="320.8" cy="453.09999999999997" r="1.5" fill="#a5593c"/>
<circle cx="417.9" cy="438.3" r="3.4" fill="#6b2e1e"/><circle cx="417.09999999999997" cy="437.5" r="1.5" fill="#a5593c"/>
<circle cx="503" cy="425" r="3.4" fill="#6b2e1e"/><circle cx="502.2" cy="424.2" r="1.5" fill="#a5593c"/>
<circle cx="579" cy="413" r="3.4" fill="#6b2e1e"/><circle cx="578.2" cy="412.2" r="1.5" fill="#a5593c"/>
<path d="M611.7,557.5 C613.2,562.7 616.2,575.3 620.6,588.6 C625,601.9 630.9,620.4 638.3,637.4 C645.7,654.4 656.9,675 665,690.7 C673.1,706.4 683.3,724.7 687,731.5" fill="none" stroke="#3f1c15" stroke-width="2.2"/>
<path d="M611.7,397.8 L611.7,558" fill="none" stroke="#2a1c1c" stroke-width="3.6"/>
<path d="M614.5,400 C614.5,416.7 614.5,474 614.5,500 C614.5,526 614.5,546.7 614.5,556" fill="none" stroke="#3d4a4e" stroke-width="2.5"/>
</svg>

<!-- ===== legend ===== -->
<div id="legend">
  <div class="leg" style="top:633.5px"><span class="n" style="transform:scaleX(0.8)">1.</span><span class="t" style="left:37.62px;transform:scaleX(1.1250)">Денитрификатор</span></div>
  <div class="leg" style="top:681.7px"><span class="n" style="transform:scaleX(0.92)">2.</span><span class="t" style="left:37.00px;transform:scaleX(1.1240)">Аэротенк</span></div>
  <div class="leg" style="top:729.8px"><span class="n" style="transform:scaleX(0.92)">3.</span><span class="t" style="left:35.72px;transform:scaleX(1.1393)">Вторичный отстойник</span></div>
  <div class="leg" style="top:778.0px"><span class="n" style="transform:scaleX(1.04)">4.</span><span class="t" style="left:35.76px;transform:scaleX(1.1220)">Барботажные стояки</span></div>
  <div class="leg" style="top:826.2px"><span class="n" style="transform:scaleX(0.92)">5.</span><span class="t" style="left:35.39px;transform:scaleX(1.1055)">Эрлифт иловой смеси</span></div>
  <div class="leg" style="top:874.4px"><span class="n" style="transform:scaleX(0.92)">6.</span><span class="t" style="left:35.78px;transform:scaleX(1.1121)">Керамзитовая загрузка</span></div>
  <div class="leg" style="top:922.5px"><span class="n" style="transform:scaleX(0.88)">7.</span><span class="t" style="left:37.00px;transform:scaleX(1.0987)">Аэраторы в аэротенке</span></div>
  <div class="leg" style="top:970.7px"><span class="n" style="transform:scaleX(0.95)">8.</span><span class="t" style="left:35.38px;transform:scaleX(1.1190)">Эрлифт циркуляционного ила</span></div>
  <div class="leg" style="top:1018.9px"><span class="n" style="transform:scaleX(0.92)">9.</span><span class="t" style="left:35.75px;transform:scaleX(1.1229)">Насос перекачки избыточного ила</span></div>
</div>

<!-- ===== numbered callouts ===== -->
<div id="dots">
  <div class="dot" style="left:308.0px;top:626.3px;width:76.0px;height:76.0px;"><span>1</span></div>
  <div class="dot" style="left:818.6px;top:480.4px;width:75.6px;height:75.6px;"><span>2</span></div>
  <div class="dot" style="left:1217.2px;top:369.5px;width:75.6px;height:75.6px;"><span>3</span></div>
  <div class="dot" style="left:450.7px;top:693.2px;width:59.0px;height:59.0px;"><span>4</span></div>
  <div class="dot" style="left:608.3px;top:421.5px;width:58.8px;height:58.8px;"><span>5</span></div>
  <div class="dot" style="left:686.7px;top:644.0px;width:59.0px;height:59.0px;"><span>6</span></div>
  <div class="dot" style="left:826.5px;top:641.8px;width:59.0px;height:59.0px;"><span>7</span></div>
  <div class="dot" style="left:1187.8px;top:310.3px;width:58.8px;height:58.8px;"><span>8</span></div>
  <div class="dot" style="left:1216.9px;top:450.4px;width:59.2px;height:59.2px;"><span>9</span></div>
</div>
<!-- ===== logo ===== -->
<svg id="logo" style="position:absolute;left:1560px;top:40px" width="371" height="130" viewBox="1560 40 371 130">
  <defs>
    <linearGradient id="lgV" x1="0" y1="96" x2="0" y2="135" gradientUnits="userSpaceOnUse">
      <stop offset="0" stop-color="#e8825c"/><stop offset="1" stop-color="#c9c4c2"/>
    </linearGradient>
    <linearGradient id="lgD" x1="1618" y1="135" x2="1650" y2="106" gradientUnits="userSpaceOnUse">
      <stop offset="0" stop-color="#b9b4b2"/><stop offset="0.5" stop-color="#5f7fb9"/><stop offset="1" stop-color="#2457a8"/>
    </linearGradient>
  </defs>
  <polygon points="1618.3,53.4 1576.6,95.8 1618.3,95.8" fill="#ee4b27"/>
  <polygon points="1620.5,74.6 1661.8,74.6 1661.8,117" fill="#2356a6"/>
  <line x1="1617.7" y1="95.8" x2="1617.7" y2="135" stroke="url(#lgV)" stroke-width="1.6"/>
  <line x1="1617.9" y1="135" x2="1650" y2="105.5" stroke="url(#lgD)" stroke-width="1.8"/>
</svg>
<div id="lg1" class="abs" style="left:1679.5px;top:68.2px;transform:scaleX(1.143);-webkit-text-stroke:0.45px #212121;font-size:29px;line-height:36px;color:#212121;white-space:nowrap;transform-origin:0 0;">Инженерное</div>
<div id="lg2" class="abs" style="left:1680.8px;top:94.4px;transform:scaleX(1.099);-webkit-text-stroke:0.45px #212121;font-size:29px;line-height:36px;color:#212121;white-space:nowrap;transform-origin:0 0;">Оборудование</div>
<div id="lg3" class="abs" style="left:1680.9px;top:133.4px;transform:scaleX(1.071);font-size:14.5px;line-height:20px;font-weight:bold;color:#2a5caa;white-space:nowrap;transform-origin:0 0;">Искусство очистки воды</div>

</div>
</body>
</html>
